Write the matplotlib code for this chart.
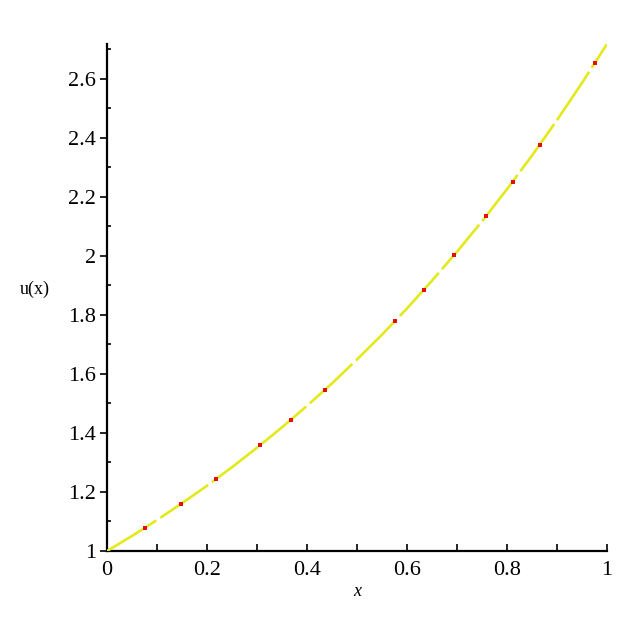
import matplotlib
matplotlib.use('Agg')
import matplotlib.pyplot as plt
from matplotlib.ticker import MultipleLocator

# exact curve u(x)
x_curve = [0.0, 0.05, 0.1, 0.15, 0.2, 0.25, 0.3, 0.35, 0.4, 0.45, 0.5,
           0.55, 0.6, 0.65, 0.7, 0.75, 0.8, 0.85, 0.9, 0.95, 1.0]
u_curve = [1.000, 1.051, 1.105, 1.162, 1.221, 1.284, 1.350, 1.419, 1.492, 1.568, 1.649,
           1.733, 1.822, 1.916, 2.014, 2.117, 2.226, 2.340, 2.460, 2.586, 2.718]

# red points (numerical solution)
x_pts = [0.076, 0.148, 0.218, 0.306, 0.368, 0.436, 0.576, 0.634, 0.694, 0.758, 0.812, 0.866, 0.976]
u_pts = [1.079, 1.160, 1.244, 1.358, 1.445, 1.547, 1.779, 1.885, 2.002, 2.134, 2.252, 2.377, 2.654]

plt.rcParams['font.family'] = ['Liberation Serif', 'DejaVu Serif']

fig = plt.figure(figsize=(6.21, 6.21), dpi=100)
ax = fig.add_axes([107 / 621, 70 / 621, 500 / 621, 507 / 621])

ax.plot(x_curve, u_curve, color='#e2ea1c', linewidth=1.9,
        dashes=(22, 1.8), solid_capstyle='butt', zorder=3)
ax.plot(x_pts, u_pts, 's', color='#e01010', markersize=2.4, markeredgewidth=0, zorder=4)

ax.set_xlim(0, 1)
ax.set_ylim(1, 2.718)

ax.spines['top'].set_visible(False)
ax.spines['right'].set_visible(False)
ax.spines['left'].set_linewidth(1.6)
ax.spines['bottom'].set_linewidth(1.6)

ax.xaxis.set_minor_locator(MultipleLocator(0.1))
ax.yaxis.set_minor_locator(MultipleLocator(0.1))
ax.set_xticks([0, 0.2, 0.4, 0.6, 0.8, 1.0], ['0', '0.2', '0.4', '0.6', '0.8', '1'])
ax.set_yticks([1, 1.2, 1.4, 1.6, 1.8, 2, 2.2, 2.4, 2.6],
              ['1', '1.2', '1.4', '1.6', '1.8', '2', '2.2', '2.4', '2.6'])

ax.tick_params(axis='x', which='both', direction='in', length=5, width=1.2,
               labelsize=16, pad=7)
ax.tick_params(axis='y', which='major', direction='out', length=5, width=1.2,
               labelsize=16, pad=3)
ax.tick_params(axis='y', which='minor', direction='in', length=3, width=1.2)

ax.set_xlabel('x', style='italic', fontsize=13, labelpad=2)
ax.set_ylabel('u(x)', fontsize=13, rotation=0, labelpad=0)
ax.yaxis.set_label_coords(-0.145, 0.50)

fig.savefig('out.png', dpi=100)
